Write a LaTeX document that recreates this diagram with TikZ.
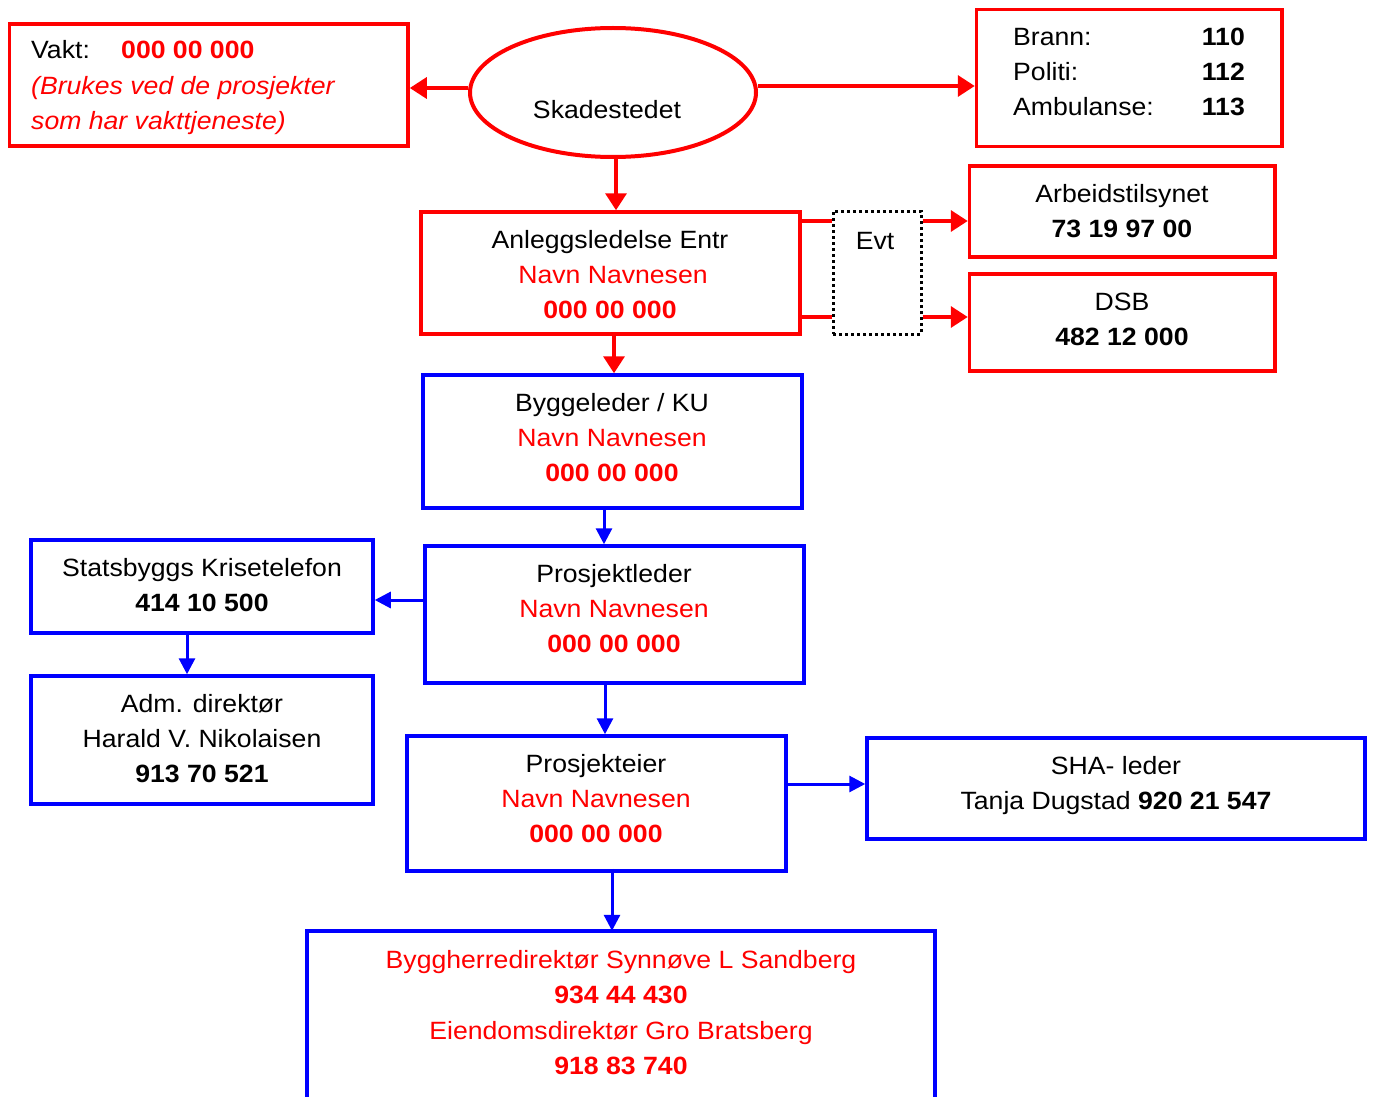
\documentclass[tikz,border=0pt]{standalone}
\usepackage{fontspec}
\setmainfont[FakeStretch=1.065]{Liberation Sans}
\usetikzlibrary{arrows.meta,shapes.geometric}
\definecolor{rd}{RGB}{255,0,0}
\definecolor{bl}{RGB}{0,0,255}
\begin{document}
\begin{tikzpicture}[x=1pt,y=-1pt,
  rbox/.style={draw=rd,line width=3.5pt,inner sep=0pt,rectangle},
  bbox/.style={draw=bl,line width=3.5pt,inner sep=0pt,rectangle},
  txt/.style={anchor=base,inner sep=0pt,font=\fontsize{25}{29}\selectfont},
  ra/.style={draw=rd,line width=3.5pt,-{Triangle[length=17pt,width=21pt]}},
  rl/.style={draw=rd,line width=3.5pt},
  ba/.style={draw=bl,line width=3pt,-{Triangle[length=16pt,width=16pt]}}]
\useasboundingbox[fill=white] (0,0) rectangle (1373,1097);

% ---- boxes ----
\node[rbox,minimum width=398.7pt,minimum height=122pt] (vakt) at (208.7,85) {};
\node[draw=rd,line width=4pt,ellipse,inner sep=0pt,minimum width=286pt,minimum height=129pt] (ell) at (613,92.5) {};
\node[rbox,minimum width=305.5pt,minimum height=137.4pt] (emer) at (1129.25,78) {};
\node[rbox,minimum width=379pt,minimum height=122pt] (anl) at (610.5,273) {};
\node[draw=black,line width=3pt,dash pattern=on 3pt off 3pt,inner sep=0pt,minimum width=88pt,minimum height=123pt] (evt) at (877,272.5) {};
\node[rbox,minimum width=305.5pt,minimum height=91pt] (arb) at (1122.25,211.5) {};
\node[rbox,minimum width=305.5pt,minimum height=97pt] (dsb) at (1122.25,322.5) {};
\node[bbox,minimum width=379pt,minimum height=133pt] (byg) at (612.5,441.5) {};
\node[bbox,minimum width=379pt,minimum height=137pt] (pl) at (614.5,614.5) {};
\node[bbox,minimum width=342pt,minimum height=93pt] (sk) at (202,586.5) {};
\node[bbox,minimum width=342pt,minimum height=128pt] (adm) at (202,740) {};
\node[bbox,minimum width=379pt,minimum height=135pt] (pe) at (596.5,803.5) {};
\node[bbox,minimum width=498pt,minimum height=101pt] (sha) at (1116,788.5) {};
\node[inner sep=0pt,minimum width=628pt,minimum height=169pt] (bot) at (621,1015.5) {};
\draw[draw=bl,line width=3.5pt] (bot.south west) -- (bot.north west) -- (bot.north east) -- (bot.south east);

% ---- texts ----
\node[txt,anchor=base west] (t1) at (31,59) {Vakt:};
\node[txt,anchor=base west,text=rd] (t2) at (121,59) {\bfseries 000 00 000};
\node[txt,anchor=base west,text=rd] (t3) at (31,95) {\itshape (Brukes ved de prosjekter};
\node[txt,anchor=base west,text=rd] (t4) at (31,130) {\itshape som har vakttjeneste)};

\node[txt] (t5) at (607,119) {Skadestedet};

\node[txt,anchor=base west] (t6) at (1013,46) {Brann:};
\node[txt,anchor=base west] (t7) at (1013,81) {Politi:};
\node[txt,anchor=base west] (t8) at (1013,116) {Ambulanse:};
\node[txt,anchor=base east] (t9) at (1245,46) {\bfseries 110};
\node[txt,anchor=base east] (t10) at (1245,81) {\bfseries 112};
\node[txt,anchor=base east] (t11) at (1245,116) {\bfseries 113};

\node[txt] (t12) at (610,248) {Anleggsledelse Entr};
\node[txt,text=rd] (t13) at (613,283) {Navn Navnesen};
\node[txt,text=rd] (t14) at (610,318) {\bfseries 000 00 000};

\node[txt] (t15) at (875,249) {Evt};

\node[txt] (t16) at (1122,202) {Arbeidstilsynet};
\node[txt] (t17) at (1122,237) {\bfseries 73 19 97 00};
\node[txt] (t18) at (1122,310) {DSB};
\node[txt] (t19) at (1122,345) {\bfseries 482 12 000};

\node[txt] (t20) at (612,411) {Byggeleder / KU};
\node[txt,text=rd] (t21) at (612,446) {Navn Navnesen};
\node[txt,text=rd] (t22) at (612,481) {\bfseries 000 00 000};

\node[txt] (t23) at (614,582) {Prosjektleder};
\node[txt,text=rd] (t24) at (614,617) {Navn Navnesen};
\node[txt,text=rd] (t25) at (614,652) {\bfseries 000 00 000};

\node[txt] (t26) at (202,576) {Statsbyggs Krisetelefon};
\node[txt] (t27) at (202,611) {\bfseries 414 10 500};

\node[txt] (t28) at (202,712) {Adm. direktør};
\node[txt] (t29) at (202,747) {Harald V. Nikolaisen};
\node[txt] (t30) at (202,782) {\bfseries 913 70 521};

\node[txt] (t31) at (596,772) {Prosjekteier};
\node[txt,text=rd] (t32) at (596,807) {Navn Navnesen};
\node[txt,text=rd] (t33) at (596,842) {\bfseries 000 00 000};

\node[txt] (t34) at (1116,774) {SHA- leder};
\node[txt] (t35) at (1116,809) {Tanja Dugstad \textbf{920 21 547}};

\node[txt,text=rd] (t36) at (621,968) {Byggherredirektør Synnøve L Sandberg};
\node[txt,text=rd] (t37) at (621,1003) {\bfseries 934 44 430};
\node[txt,text=rd] (t38) at (621,1039) {Eiendomsdirektør Gro Bratsberg};
\node[txt,text=rd] (t39) at (621,1074) {\bfseries 918 83 740};

% ---- connectors ----
\draw[ra] (ell.west |- 0,88) -- (vakt.east |- 0,88);
\draw[ra] (ell.east |- 0,86) -- (emer.west |- 0,86);
\draw[ra] (ell.south -| 616,0) -- (anl.north -| 616,0);
\draw[ra] (anl.south -| 614,0) -- (byg.north -| 614,0);
\draw[rl] (anl.east |- 0,221) -- (evt.west |- 0,221);
\draw[rl] (anl.east |- 0,317) -- (evt.west |- 0,317);
\draw[ra] (evt.east |- 0,221) -- (arb.west |- 0,221);
\draw[ra] (evt.east |- 0,317) -- (dsb.west |- 0,317);
\draw[ba] (byg.south -| 604,0) -- (pl.north -| 604,0);
\draw[ba] (pl.west |- 0,600) -- (sk.east |- 0,600);
\draw[ba] (sk.south -| 187,0) -- (adm.north -| 187,0);
\draw[ba] (pl.south -| 605,0) -- (pe.north -| 605,0);
\draw[ba] (pe.east |- 0,784) -- (sha.west |- 0,784);
\draw[ba] ([yshift=4pt]pe.south -| 612,0) -- (bot.north -| 612,0);
\end{tikzpicture}
\end{document}
